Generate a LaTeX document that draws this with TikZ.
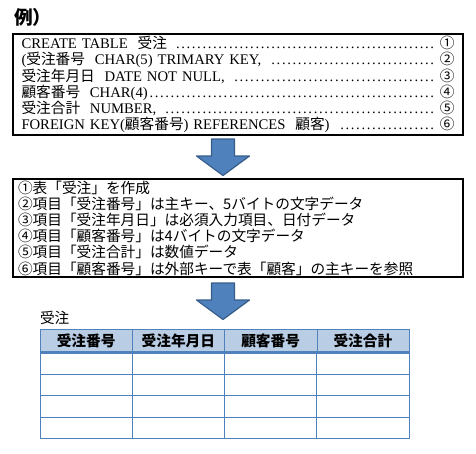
\documentclass[tikz,border=0pt]{standalone}
\usepackage{fontspec}
\setmainfont{Liberation Serif}
\newfontfamily\jp{Noto Sans CJK JP}
\usetikzlibrary{positioning,calc}
\definecolor{arrowblue}{RGB}{79,129,189}
\definecolor{arrowedge}{RGB}{56,93,138}
\definecolor{tableline}{RGB}{79,129,189}
\definecolor{headfill}{RGB}{185,205,229}
\newcommand{\dotlead}{\leaders\hbox to 5.3pt{\hss.\hss}\hfill}

\begin{document}
\begin{tikzpicture}[
  x=1pt,y=-1pt,
  textbox/.style={draw,line width=1.2pt,minimum width=450pt,inner ysep=0pt,align=left,font=\fontsize{14.67}{16.2}\selectfont},
  bigarrow/.style={fill=arrowblue,draw=arrowedge,line width=1.2pt,line join=round},
  headcell/.style={draw=tableline,fill=headfill,minimum width=92.25pt,minimum height=23.5pt,inner sep=0pt,font=\jp\bfseries\fontsize{14.67}{16}\selectfont},
  rowline/.style={draw=tableline,line width=0.9pt}
]
\useasboundingbox (0,0) rectangle (476,453);

\node[anchor=west,inner sep=0pt,font=\jp\bfseries\fontsize{18.7}{20}\selectfont] (title) at (14,17) {例）};

% SQL statement
\node[textbox,minimum height=101pt,inner xsep=8.5pt,text width=433pt] (sql) at (238,84.5) {%
CREATE TABLE\ \ {\jp 受注}\ \dotlead{\jp ①}\\
({\jp 受注番号}\ \ CHAR(5) TRIMARY KEY,\ \dotlead{\jp ②}\\
{\jp 受注年月日}\ \ DATE NOT NULL,\ \dotlead{\jp ③}\\
{\jp 顧客番号}\ \ CHAR(4)\dotlead{\jp ④}\\
{\jp 受注合計}\ \ NUMBER,\ \dotlead{\jp ⑤}\\
FOREIGN KEY({\jp 顧客番号}) REFERENCES\ \ {\jp 顧客})\ \dotlead{\jp ⑥}};

% meaning of each line
\node[textbox,minimum height=98pt,inner xsep=5pt,text width=440pt] (memo) at (238,228) {\jp
①表「受注」を作成\\
②項目「受注番号」は主キー、5バイトの文字データ\\
③項目「受注年月日」は必須入力項目、日付データ\\
④項目「顧客番号」は4バイトの文字データ\\
⑤項目「受注合計」は数値データ\\
⑥項目「顧客番号」は外部キーで表「顧客」の主キーを参照};

% block arrows
\coordinate (arr1) at (223,139);
\coordinate (arr2) at (223,283);
\foreach \a in {arr1,arr2}
  \draw[bigarrow] (\a) ++(-11.5,0) -- ++(23,0) -- ++(0,17) -- ++(15,0)
    -- ++(-26.5,19.5) -- ++(-26.5,-19.5) -- ++(15,0) -- cycle;

% resulting table
\foreach \name [count=\i] in {受注番号,受注年月日,顧客番号,受注合計}
  \node[headcell] (h\i) at (40+92.25*\i-46.125,340.75) {\name};
\node[above right=4pt and 0pt of h1.north west,inner sep=0pt,font=\jp\fontsize{14.67}{16}\selectfont] (tname) {受注};

\foreach \c in {0,...,4}
  \draw[rowline] (40+92.25*\c,352.5) -- (40+92.25*\c,438.5);
\foreach \r in {1,...,4}
  \draw[rowline] ($(h1.south west)+(0,21.5*\r)$) -- ($(h4.south east)+(0,21.5*\r)$);
\draw[rowline,line width=2.5pt] (h1.south west) -- (h4.south east);
\end{tikzpicture}
\end{document}
